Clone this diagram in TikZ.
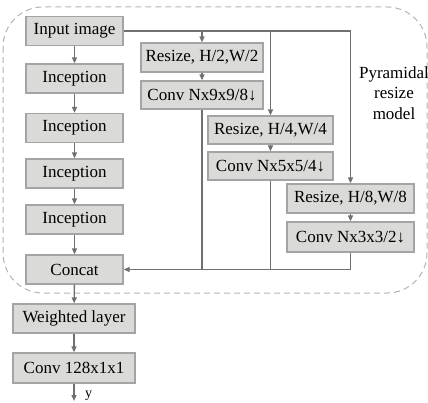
\documentclass[tikz,border=0pt]{standalone}
\usepackage{fontspec}
\setmainfont{Liberation Serif}
\usetikzlibrary{arrows.meta}
\definecolor{boxfill}{HTML}{DADAD8}
\definecolor{boxdraw}{HTML}{A4A4A4}
\definecolor{linecol}{HTML}{707070}
\definecolor{dashcol}{HTML}{B4B4B4}
\tikzset{
  blk/.style={draw=boxdraw, fill=boxfill, line width=1.2pt, inner sep=0pt, minimum height=29pt, font=\fontsize{17}{20}\selectfont},
  conn/.style={draw=linecol, line width=1.4pt, -{Triangle[length=6pt,width=5pt]}},
  plain/.style={draw=linecol, line width=1.4pt},
}
\begin{document}
\begin{tikzpicture}[x=1pt,y=-1pt]
\useasboundingbox (0,0) rectangle (428,403);
\draw[dashcol, line width=1pt, dash pattern=on 6pt off 4pt, rounded corners=40pt] (3,7) rectangle (427,293);

\node[blk, minimum width=97pt] (inp) at (74.5,31) {Input image};
\node[blk, minimum width=97pt] (inc1) at (74.5,78.5) {Inception};
\node[blk, minimum width=97pt] (inc2) at (74.5,128) {Inception};
\node[blk, minimum width=97pt] (inc3) at (74.5,173.5) {Inception};
\node[blk, minimum width=97pt] (inc4) at (74.5,219.5) {Inception};
\node[blk, minimum width=97pt] (cat) at (74.5,269.5) {Concat};
\node[blk, minimum width=122pt] (wl) at (74,318.5) {Weighted layer};
\node[blk, minimum width=122pt, minimum height=30pt] (cv) at (74,368) {Conv 128x1x1};

\node[blk, minimum width=122pt] (r2) at (202,57.5) {Resize, H/2,W/2};
\node[blk, minimum width=122pt, minimum height=28pt] (c9) at (202,95) {Conv Nx9x9/8↓};
\node[blk, minimum width=125pt, minimum height=28pt] (r4) at (270.5,130) {Resize, H/4,W/4};
\node[blk, minimum width=125pt, minimum height=28pt] (c5) at (270.5,166) {Conv Nx5x5/4↓};
\node[blk, minimum width=127pt] (r8) at (350.5,198.5) {Resize, H/8,W/8};
\node[blk, minimum width=127pt, minimum height=30pt] (c3) at (350.5,237) {Conv Nx3x3/2↓};

\node[align=center, font=\fontsize{17}{20.5}\selectfont, anchor=center] (lab) at (394,93) {Pyramidal\\resize\\model};

\coordinate (t2) at (202,31);
\coordinate (t4) at (270.5,31);
\coordinate (t8) at (350.5,31);
\coordinate (b2) at (202,269.5);
\coordinate (b4) at (270.5,269.5);
\coordinate (b8) at (350.5,269.5);
\coordinate (yend) at (74,401);

\draw[conn] (inp) -- (inc1);
\draw[conn] (inc1) -- (inc2);
\draw[conn] (inc2) -- (inc3);
\draw[conn] (inc3) -- (inc4);
\draw[conn] (inc4) -- (cat);
\draw[conn] (cat) -- (wl);
\draw[conn] (wl) -- (cv);
\draw[conn] (cv) -- (yend);
\node[anchor=west, font=\fontsize{14}{16}\selectfont, inner sep=0pt] (ylab) at (85,396) {y};

\draw[plain] (inp.east) -- (t8);
\draw[conn] (t2) -- (r2);
\draw[conn] (t4) -- (r4);
\draw[conn] (t8) -- (r8);
\draw[conn] (r2) -- (c9);
\draw[conn] (r4) -- (c5);
\draw[conn] (r8) -- (c3);
\draw[plain] (c9) -- (b2);
\draw[plain] (c5) -- (b4);
\draw[plain] (c3) -- (b8);
\draw[conn] (b8) -- (cat.east);
\end{tikzpicture}
\end{document}
